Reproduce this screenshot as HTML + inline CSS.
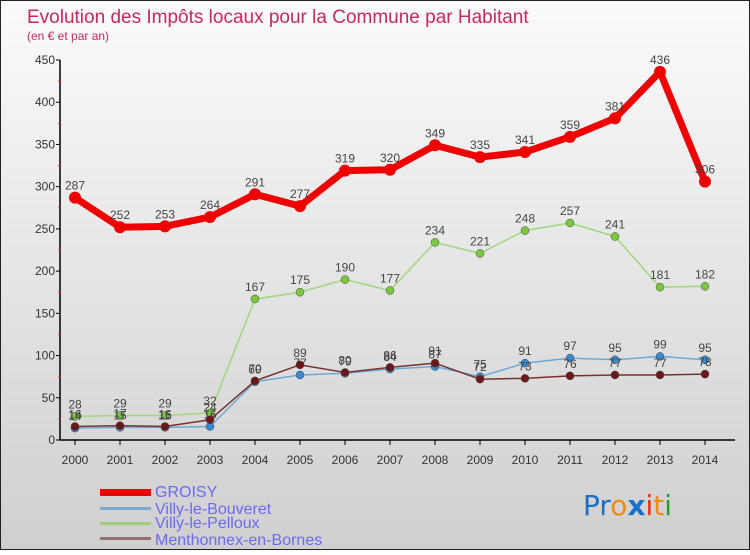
<!DOCTYPE html>
<html><head><meta charset="utf-8"><style>
html,body{margin:0;padding:0;}
body{width:750px;height:550px;overflow:hidden;font-family:"Liberation Sans",sans-serif;}
</style></head><body>
<svg id="chart" width="750" height="550" xmlns="http://www.w3.org/2000/svg">
<defs>
<linearGradient id="bg" x1="0" y1="0" x2="0" y2="1"><stop offset="0" stop-color="#fbfbfb"/><stop offset="1" stop-color="#cfcfcf"/></linearGradient>
</defs>
<rect x="0" y="0" width="750" height="550" fill="url(#bg)" stroke="#222" stroke-width="2"/>
<text x="27" y="23" font-size="19" fill="#c8285a">Evolution des Impôts locaux pour la Commune par Habitant</text>
<text x="27" y="40" font-size="12" fill="#c8285a">(en € et par an)</text>
<g id="axes"></g>
<g id="series"></g>
<g id="legend">
<rect x="100" y="489" width="51" height="7" fill="#ee0000"/>
<text x="155" y="497" font-size="16" fill="#6a6af0">GROISY</text>
<rect x="100" y="507" width="51" height="3" fill="#7aaad0"/>
<text x="155" y="514" font-size="16" fill="#6a6af0">Villy-le-Bouveret</text>
<rect x="100" y="522" width="51" height="3" fill="#9ed07a"/>
<text x="155" y="528" font-size="16" fill="#6a6af0">Villy-le-Pelloux</text>
<rect x="100" y="537" width="51" height="3" fill="#957070"/>
<text x="155" y="545" font-size="16" fill="#6a6af0">Menthonnex-en-Bornes</text>
</g>
<g font-size="28" font-family="'DejaVu Sans',sans-serif">
<text x="583" y="515"><tspan fill="#1a70c8">Pr</tspan><tspan fill="#ee8a10">o</tspan><tspan fill="#1a70c8" font-weight="bold">x</tspan><tspan fill="#e83010">i</tspan><tspan fill="#ee8a10">t</tspan><tspan fill="#2a9a30">i</tspan></text>
</g>
</svg>
<script>
const years = [2000,2001,2002,2003,2004,2005,2006,2007,2008,2009,2010,2011,2012,2013,2014];
const yTicks = [0,50,100,150,200,250,300,350,400,450];
const groisy = [287,252,253,264,291,277,319,320,349,335,341,359,381,436,306];
const bouveret = [14,15,15,16,69,77,79,84,87,75,91,97,95,99,95];
const pelloux = [28,29,29,32,167,175,190,177,234,221,248,257,241,181,182];
const menthonnex = [16,17,16,24,70,89,80,86,91,72,73,76,77,77,78];
const NS='http://www.w3.org/2000/svg';
function xs(i){return 75+i*45;}
function ys(v){return 440-v*(380/450);}
function mk(tag,attrs,parent){const e=document.createElementNS(NS,tag);for(const k in attrs)e.setAttribute(k,attrs[k]);parent.appendChild(e);return e;}
const ax=document.getElementById('axes');
let a=mk('line',{x1:60,y1:ys(450),x2:60,y2:440,stroke:'#000','stroke-width':1.5},ax);


a=mk('line',{x1:60,y1:440,x2:735,y2:440,stroke:'#000','stroke-width':1.5},ax);


yTicks.forEach(v=>{
  mk('line',{x1:56,y1:ys(v),x2:60,y2:ys(v),stroke:'#000'},ax);
  if(v<450) mk('line',{x1:58,y1:ys(v+25),x2:61,y2:ys(v+25),stroke:'#e03030'},ax);
  const t=mk('text',{x:55,y:ys(v)+4,'font-size':12,fill:'#333','text-anchor':'end'},ax);
  t.textContent=v;
  
  
});
years.forEach((y,i)=>{
  mk('line',{x1:xs(i),y1:440,x2:xs(i),y2:445,stroke:'#000'},ax);
  const t=mk('text',{x:xs(i),y:464,'font-size':12,fill:'#333','text-anchor':'middle'},ax);
  t.textContent=y;
  
  
});
const sg=document.getElementById('series');
function drawSeries(data,name,color,lw,r,dot){
  const g=mk('g',{},sg);
  
  
  const p=mk('polyline',{points:data.map((v,i)=>xs(i)+','+ys(v)).join(' '),fill:'none',stroke:color,'stroke-width':lw,'stroke-linejoin':'round'},g);
  
  
  data.forEach((v,i)=>{
    const c=mk('circle',{cx:xs(i),cy:ys(v),r:r,fill:dot,stroke:dot==='#ee0000'?'none':'#444','stroke-width':0.5},g);
    
    
    const t=mk('text',{x:xs(i),y:ys(v)-8,'font-size':12,fill:'#444','text-anchor':'middle'},g);
    t.textContent=v;
    
    
  });
}
drawSeries(pelloux,'pelloux','#9ed87a',1.5,4,'#7ac840');
drawSeries(bouveret,'bouveret','#6aaad8',1.5,4,'#3a8ad0');
drawSeries(menthonnex,'menthonnex','#7a3030',1.5,4,'#6a1818');
drawSeries(groisy,'groisy','#ee0000',7,6,'#ee0000');
</script>
</body></html>
